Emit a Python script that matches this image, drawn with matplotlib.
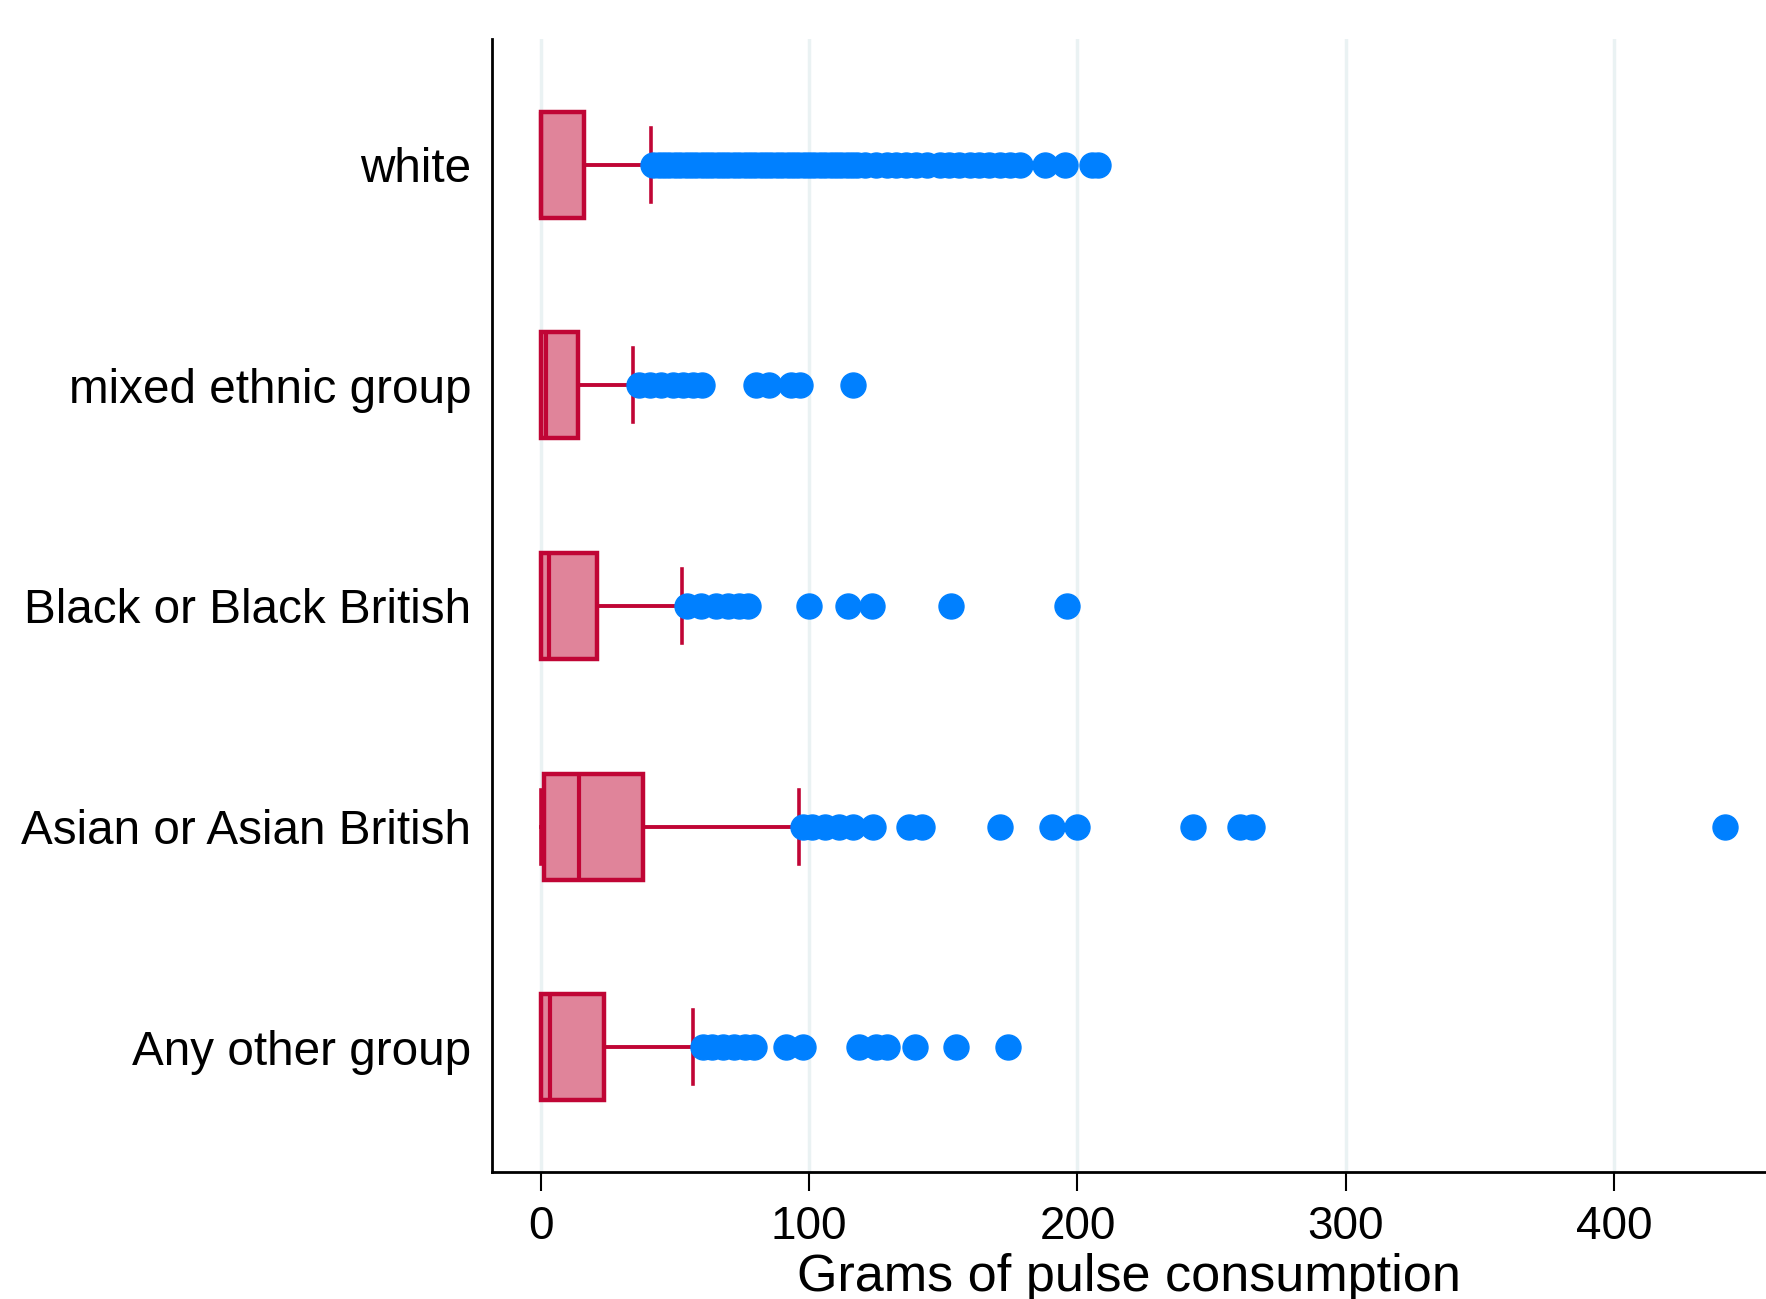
import matplotlib
matplotlib.use("Agg")
import matplotlib.pyplot as plt

plt.rcParams["font.family"] = ["Liberation Sans", "DejaVu Sans"]

# Data
groups = ["white", "mixed ethnic group", "Black or Black British",
          "Asian or Asian British", "Any other group"]
q1 = [0, 0, 0, 1.2, 0]
med = [0, 2.0, 3.0, 14.3, 3.5]
q3 = [16.1, 13.9, 21.1, 38.2, 23.8]
whislo = [0, 0, 0, 0, 0]
whishi = [41.3, 34.4, 52.6, 96.2, 56.7]

white_out = [42, 44, 46, 48, 50, 52, 54, 56, 58, 60, 62, 64, 66, 68, 70, 72,
             74, 76, 78, 80, 82, 84, 86, 88, 90, 92, 94, 96, 98, 100, 102, 104,
             106, 108, 110, 112, 114, 116, 118, 121, 125, 129, 132.5, 136, 140,
             144, 148.7, 152, 156, 160, 163.5, 167, 171, 175, 178.5, 188,
             195.3, 205.3, 207.5]
mixed_out = [36.6, 40.6, 45, 49.3, 53, 56.8, 60.1, 80.4, 85.1, 93.4, 96.8, 116.4]
black_out = [54.5, 59.9, 65.3, 69.9, 73.8, 77.3, 100, 114.7, 123.6, 152.9, 196]
asian_out = [97.6, 101, 105.8, 111.1, 116.5, 123.9, 137.4, 142.1, 171, 190.6,
             199.8, 243.2, 260.7, 265, 441.3]
other_out = [60.5, 64, 68, 72, 76, 79.6, 91.5, 97.9, 118.5, 124.9, 129.2,
             139.6, 154.8, 174.1]
outliers = [white_out, mixed_out, black_out, asian_out, other_out]

xticks = [0, 100, 200, 300, 400]

box_face = "#E0849A"
box_edge = "#C00535"
dot_color = "#0080FF"

stats = []
for i, g in enumerate(groups):
    stats.append({"label": g, "q1": q1[i], "med": med[i], "q3": q3[i],
                  "whislo": whislo[i], "whishi": whishi[i],
                  "fliers": outliers[i]})

fig = plt.figure(figsize=(17.66, 12.99), dpi=100)
ax = fig.add_axes([0.2786, 0.0978, 0.7214, 0.872])

positions = list(range(1, len(groups) + 1))
bp = ax.bxp(stats, positions=positions, orientation="horizontal",
            widths=0.48, capwidths=0.335, patch_artist=True,
            boxprops=dict(facecolor=box_face, edgecolor=box_edge, linewidth=3.2),
            medianprops=dict(color=box_edge, linewidth=3),
            whiskerprops=dict(color=box_edge, linewidth=2.8),
            capprops=dict(color=box_edge, linewidth=2.6),
            flierprops=dict(marker="o", markersize=18, markerfacecolor=dot_color,
                            markeredgecolor=dot_color, linestyle="none"),
            zorder=3)

ax.set_xlim(-18.1, 456.5)
ax.set_ylim(5.565, 0.432)
ax.set_xticks(xticks)
ax.set_xticklabels([str(t) for t in xticks], fontsize=33)
ax.set_yticks(positions)
ax.set_yticklabels(groups, fontsize=34.3)

ax.xaxis.grid(True, color="#EAF2F3", linewidth=2.5)
ax.set_axisbelow(True)

for s in ["top", "right"]:
    ax.spines[s].set_visible(False)
for s in ["left", "bottom"]:
    ax.spines[s].set_linewidth(2)

ax.tick_params(axis="x", length=13.7, width=1.5, pad=10)
ax.tick_params(axis="y", length=0, pad=15)

ax.set_xlabel("Grams of pulse consumption", fontsize=37.5, labelpad=3)

plt.savefig("out.png", dpi=100)
